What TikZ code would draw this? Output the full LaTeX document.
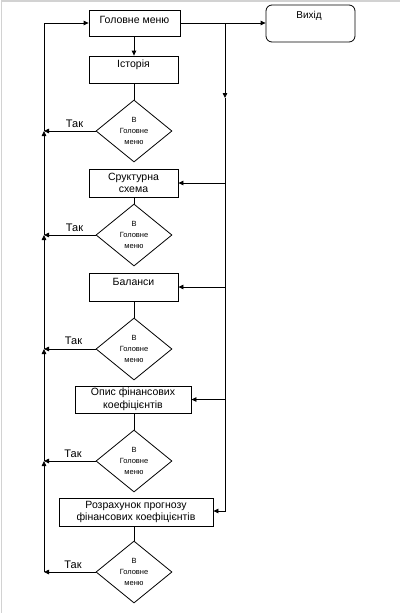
\documentclass[tikz,border=0pt]{standalone}
\usepackage{fontspec}
\setmainfont{Liberation Sans}
\usetikzlibrary{shapes.geometric,arrows.meta}
\begin{document}
\begin{tikzpicture}[x=1pt,y=-1pt,
 box/.style={draw,line width=0.8pt,rectangle,inner sep=1pt,font=\fontsize{10.5}{12.5}\selectfont,align=center},
 dec/.style={draw,line width=0.8pt,diamond,minimum width=76pt,minimum height=62pt,inner sep=0pt,font=\fontsize{7.5}{11}\selectfont,align=center},
 arr/.style={-{Triangle[length=5pt,width=4.5pt]}},
 ln/.style={line width=0.8pt},
 lab/.style={font=\fontsize{11}{13}\selectfont,inner sep=0pt}]
\useasboundingbox (0,0) rectangle (400,613);
\draw[gray!35,line width=1.5pt] (1.5,613) -- (1.5,0.75) -- (400,0.75);
% boxes
\node[box,minimum width=91pt,minimum height=26pt] (gm) at (134.5,23) {};
\node[lab,font=\fontsize{10.5}{12.5}\selectfont] (gmt) at (134.5,20) {Головне меню};
\node[box,rounded corners=6pt,minimum width=89pt,minimum height=37pt] (ex) at (310.5,23.5) {};
\node[lab,font=\fontsize{10}{12}\selectfont] (ext) at (309,16) {Вихід};
\node[box,minimum width=89pt,minimum height=27pt] (ist) at (133.5,69.5) {};
\node[lab,font=\fontsize{10.5}{12.5}\selectfont] (istt) at (133.5,65) {Історія};
\node[dec] (d1) at (134,131) {В\\Головне\\меню};
\node[box,minimum width=89pt,minimum height=28pt] (str) at (133.5,183) {Сруктурна\\схема};
\node[dec] (d2) at (134,235) {В\\Головне\\меню};
\node[box,minimum width=89pt,minimum height=28pt] (bal) at (133.5,287) {};
\node[lab,font=\fontsize{10.5}{12.5}\selectfont] (balt) at (133.5,282) {Баланси};
\node[dec] (d3) at (134,349) {В\\Головне\\меню};
\node[box,minimum width=116pt,minimum height=27pt] (op) at (133,399.5) {Опис фінансових\\коефіцієнтів};
\node[dec] (d4) at (134,461) {В\\Головне\\меню};
\node[box,minimum width=154pt,minimum height=28pt] (rz) at (136,512) {Розрахунок прогнозу\\фінансових коефіцієнтів};
\node[dec] (d5) at (134,572) {В\\Головне\\меню};
% vertical flow
\draw[ln,arr] (gm.south -| 134,0) -- (ist.north -| 134,0);
\draw[ln] (ist.south -| d1.north) -- (d1.north);
\draw[ln] (str.south -| d2.north) -- (d2.north);
\draw[ln] (bal.south -| d3.north) -- (d3.north);
\draw[ln] (op.south -| d4.north) -- (d4.north);
\draw[ln] (rz.south -| d5.north) -- (d5.north);
% right side
\coordinate (rt) at (225,23);
\coordinate (rm) at (225,98);
\coordinate (rb) at (225,511);
\draw[ln,arr] (gm.east) -- (ex.west |- gm.east);
\draw[ln,arr] (rt) -- (rm);
\draw[ln,arr] (rm) -- (rb) -- (rz.east |- rb);
\draw[ln,arr] (rt |- str.east) -- (str.east);
\draw[ln,arr] (rt |- bal.east) -- (bal.east);
\draw[ln,arr] (rt |- op.east) -- (op.east);
% left side
\coordinate (j1) at (44,131);
\coordinate (j2) at (44,235);
\coordinate (j3) at (44,349);
\coordinate (j4) at (44,461);
\coordinate (j5) at (44,572);
\coordinate (jt) at (44,23);
\draw[ln,arr] (d1.west) -- (j1);
\draw[ln,arr] (d2.west) -- (j2);
\draw[ln,arr] (d3.west) -- (j3);
\draw[ln,arr] (d4.west) -- (j4);
\draw[ln,arr] (d5.west) -- (j5);
\draw[ln,arr] (j5) -- (j4);
\draw[ln,arr] (j4) -- (j3);
\draw[ln,arr] (j3) -- (j2);
\draw[ln,arr] (j2) -- (j1);
\draw[ln,arr] (j1) -- (jt) -- (gm.west);
\node[lab] (t1) at (74.5,124) {Так};
\node[lab] (t2) at (74.5,228) {Так};
\node[lab] (t3) at (73.5,341) {Так};
\node[lab] (t4) at (73,454) {Так};
\node[lab] (t5) at (73,565) {Так};
\end{tikzpicture}
\end{document}
